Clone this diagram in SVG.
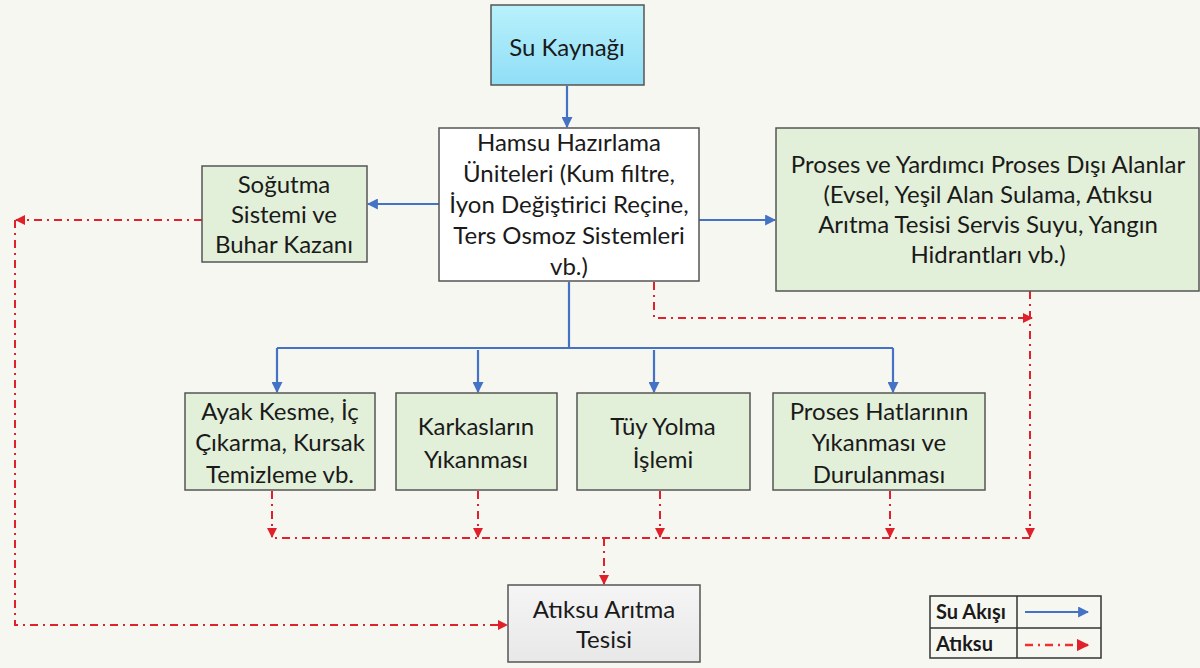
<svg xmlns="http://www.w3.org/2000/svg" width="1200" height="668" viewBox="0 0 1200 668">
<defs>
<linearGradient id="gCyan" x1="0" y1="0" x2="0" y2="1"><stop offset="0" stop-color="#b8f1fb"/><stop offset="1" stop-color="#90def7"/></linearGradient>
<linearGradient id="gGray" x1="0" y1="0" x2="0" y2="1"><stop offset="0" stop-color="#f5f5f5"/><stop offset="1" stop-color="#e8e8e8"/></linearGradient>
<marker id="aBlue" viewBox="0 0 10 10" refX="9" refY="5" markerWidth="5" markerHeight="5" orient="auto"><path d="M0,0 L10,5 L0,10 z" fill="#4472c4"/></marker>
<marker id="aRed" viewBox="0 0 10 10" refX="9" refY="5" markerWidth="5" markerHeight="5" orient="auto"><path d="M0,0 L10,5 L0,10 z" fill="#e0202a"/></marker>
</defs>
<style>
.box{stroke:#555;stroke-width:1.5}
.green{fill:#e2efd9}
.t{font-family:Lato,"Liberation Sans",sans-serif;font-size:24px;fill:#1a1a1a;text-anchor:middle}
.lg{font-family:Lato,"Liberation Sans",sans-serif;font-size:20px;font-weight:bold;fill:#1a1a1a}
.bl{fill:none;stroke:#4472c4;stroke-width:2.2}
.rd{fill:none;stroke:#e0202a;stroke-width:2;stroke-dasharray:8 5 2 5}
</style>
<rect width="1200" height="668" fill="#f7f7f2"/>

<g id="connectors">
<path class="bl" d="M567,86 V127" marker-end="url(#aBlue)"/>
<path class="bl" d="M439,204 H368" marker-end="url(#aBlue)"/>
<path class="bl" d="M699,220 H775" marker-end="url(#aBlue)"/>
<path class="bl" d="M569,282 V348"/>
<path class="bl" d="M277,348 H893"/>
<path class="bl" d="M277,348 V392" marker-end="url(#aBlue)"/>
<path class="bl" d="M478,350 V392" marker-end="url(#aBlue)"/>
<path class="bl" d="M654,350 V392" marker-end="url(#aBlue)"/>
<path class="bl" d="M893,348 V392" marker-end="url(#aBlue)"/>

<path class="rd" d="M202,220 H16" marker-end="url(#aRed)"/>
<path class="rd" d="M15,220 V625 H507" marker-end="url(#aRed)"/>
<path class="rd" d="M654,282 V318 H1032" marker-end="url(#aRed)"/>
<path class="rd" d="M1030,291 V537" marker-end="url(#aRed)"/>
<path class="rd" d="M1030,538 H272"/>
<path class="rd" d="M272,491 V537" marker-end="url(#aRed)"/>
<path class="rd" d="M478,491 V537" marker-end="url(#aRed)"/>
<path class="rd" d="M660,491 V537" marker-end="url(#aRed)"/>
<path class="rd" d="M890,491 V537" marker-end="url(#aRed)"/>
<path class="rd" d="M604,538 V584" marker-end="url(#aRed)"/>
</g>

<g id="su-kaynagi">
<rect class="box" x="491" y="5" width="153" height="80" fill="url(#gCyan)"/>
<text class="t" x="567" y="56">Su Kaynağı</text>
</g>

<g id="hamsu">
<rect class="box" x="439" y="128" width="260" height="153" fill="#ffffff"/>
<text class="t" x="569" y="151">Hamsu Hazırlama</text>
<text class="t" x="569" y="182">Üniteleri (Kum filtre,</text>
<text class="t" x="569" y="213">İyon Değiştirici Reçine,</text>
<text class="t" x="569" y="244">Ters Osmoz Sistemleri</text>
<text class="t" x="569" y="275">vb.)</text>
</g>

<g id="sogutma">
<rect class="box green" x="202" y="166" width="165" height="96"/>
<text class="t" x="284" y="193">Soğutma</text>
<text class="t" x="284" y="223">Sistemi ve</text>
<text class="t" x="284" y="253">Buhar Kazanı</text>
</g>

<g id="proses-disi">
<rect class="box green" x="776" y="128" width="423" height="163"/>
<text class="t" x="988" y="173">Proses ve Yardımcı Proses Dışı Alanlar</text>
<text class="t" x="988" y="203">(Evsel, Yeşil Alan Sulama, Atıksu</text>
<text class="t" x="988" y="233">Arıtma Tesisi Servis Suyu, Yangın</text>
<text class="t" x="988" y="263">Hidrantları vb.)</text>
</g>

<g id="ayak-kesme">
<rect class="box green" x="185" y="393" width="190" height="97"/>
<text class="t" x="280" y="420">Ayak Kesme, İç</text>
<text class="t" x="280" y="451">Çıkarma, Kursak</text>
<text class="t" x="280" y="483">Temizleme vb.</text>
</g>

<g id="karkas">
<rect class="box green" x="396" y="393" width="161" height="97"/>
<text class="t" x="476" y="435">Karkasların</text>
<text class="t" x="476" y="468">Yıkanması</text>
</g>

<g id="tuy-yolma">
<rect class="box green" x="577" y="393" width="173" height="97"/>
<text class="t" x="663" y="435">Tüy Yolma</text>
<text class="t" x="663" y="468">İşlemi</text>
</g>

<g id="proses-hatlari">
<rect class="box green" x="773" y="393" width="212" height="97"/>
<text class="t" x="879" y="420">Proses Hatlarının</text>
<text class="t" x="879" y="451">Yıkanması ve</text>
<text class="t" x="879" y="483">Durulanması</text>
</g>

<g id="atiksu-aritma">
<rect class="box" x="508" y="585" width="192" height="77" fill="url(#gGray)"/>
<text class="t" x="604" y="618">Atıksu Arıtma</text>
<text class="t" x="604" y="648">Tesisi</text>
</g>

<g id="legend">
<rect x="930" y="596" width="171" height="62" fill="#f7f7f2" stroke="#333" stroke-width="1.5"/>
<line x1="930" y1="628" x2="1101" y2="628" stroke="#333" stroke-width="1.5"/>
<line x1="1017" y1="596" x2="1017" y2="658" stroke="#333" stroke-width="1.5"/>
<text class="lg" x="936" y="619">Su Akışı</text>
<text class="lg" x="936" y="651">Atıksu</text>
<path class="bl" d="M1025,612 H1088" marker-end="url(#aBlue)"/>
<path class="rd" d="M1025,645 H1088" marker-end="url(#aRed)" style="stroke:#f03030;stroke-width:2.5"/>
</g>
</svg>
